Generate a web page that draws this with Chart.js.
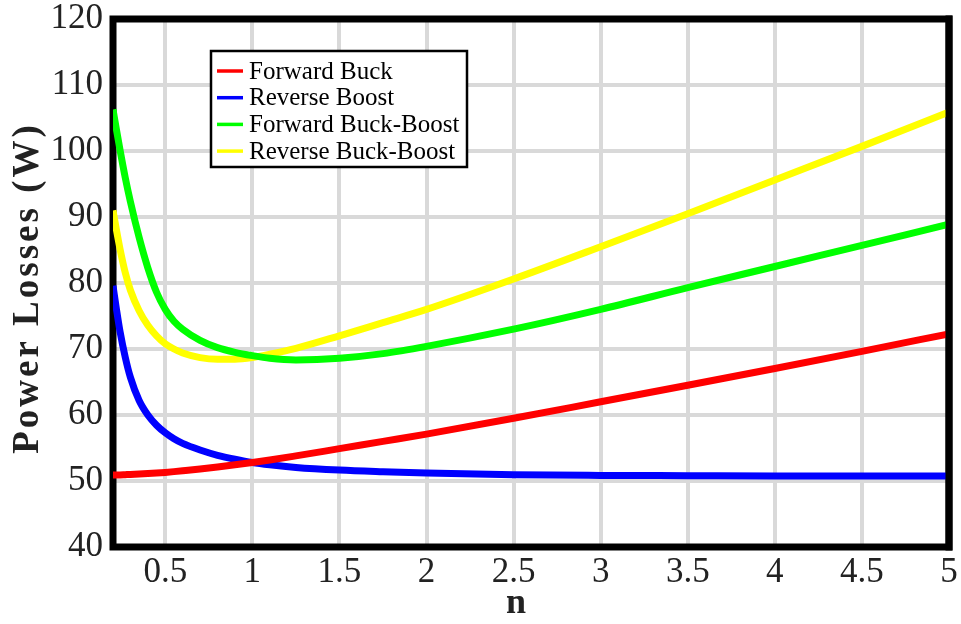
<!DOCTYPE html>
<html>
<head>
<meta charset="utf-8">
<style>
  html, body { margin: 0; padding: 0; background: #fff; }
  canvas { display: block; }
</style>
<script src="https://cdn.jsdelivr.net/npm/chart.js@4.4.1/dist/chart.umd.min.js"></script>
</head>
<body>
<canvas id="chart" width="961" height="624"></canvas>
<script>
// turns ratio n and losses (W)
const nValues = [0.2, 0.22, 0.24, 0.27, 0.3, 0.35, 0.4, 0.45, 0.5, 0.55, 0.6, 0.7, 0.8, 0.9, 1.0, 1.1, 1.25, 1.5, 1.75, 2.0, 2.5, 3.0, 3.5, 4.0, 4.5, 5.0];
const forwardBuck = [50.9, 50.9, 50.92, 50.96, 51.0, 51.05, 51.12, 51.2, 51.3, 51.42, 51.55, 51.82, 52.12, 52.45, 52.8, 53.17, 53.8, 54.9, 56.0, 57.1, 59.5, 62.0, 64.5, 67.05, 69.65, 72.3];
const reverseBoost = [79.6, 76.0, 72.7, 68.8, 65.7, 62.2, 60.0, 58.45, 57.3, 56.4, 55.7, 54.7, 53.9, 53.3, 52.8, 52.45, 52.05, 51.65, 51.4, 51.2, 50.95, 50.85, 50.8, 50.75, 50.75, 50.75];
const forwardBuckBoost = [106.3, 103.2, 100.2, 96.0, 92.3, 86.9, 82.3, 78.6, 76.0, 74.2, 73.0, 71.3, 70.2, 69.5, 69.0, 68.6, 68.35, 68.6, 69.3, 70.4, 73.0, 76.0, 79.3, 82.5, 85.7, 88.9];
const reverseBuckBoost = [91.0, 88.0, 85.2, 81.6, 78.9, 75.8, 73.6, 72.0, 70.8, 70.0, 69.4, 68.7, 68.45, 68.45, 68.7, 69.2, 70.1, 72.0, 74.0, 76.0, 80.6, 85.5, 90.5, 95.6, 100.7, 105.9];

const seriesNames = ["Forward Buck", "Reverse Boost", "Forward Buck-Boost", "Reverse Buck-Boost"];
const seriesColors = ["#ff0000", "#0000ff", "#00ff00", "#ffff00"];

const xTicks = [0.5, 1, 1.5, 2, 2.5, 3, 3.5, 4, 4.5, 5];
const yTicks = [40, 50, 60, 70, 80, 90, 100, 110, 120];

const SERIF = '"Liberation Serif", "Times New Roman", serif';

const toPoints = (ys) => nValues.map((x, i) => ({ x: x, y: ys[i] }));

// black frame round the plot; the right edge goes over the curves
const framePlugin = {
    id: "frame",
    beforeDatasetsDraw(chart) {
        const { ctx, chartArea: a } = chart;
        ctx.save();
        ctx.strokeStyle = "#000";
        ctx.lineWidth = 7;
        ctx.strokeRect(a.left, a.top, a.right - a.left, a.bottom - a.top);
        ctx.restore();
    },
    afterDatasetsDraw(chart) {
        const { ctx, chartArea: a } = chart;
        ctx.save();
        ctx.strokeStyle = "#000";
        ctx.lineWidth = 7;
        ctx.beginPath();
        ctx.moveTo(a.right, a.top - 3.5);
        ctx.lineTo(a.right, a.bottom + 3.5);
        ctx.stroke();
        ctx.restore();
    },
};

// boxed legend sitting inside the plot
const boxLegendPlugin = {
    id: "boxLegend",
    afterDraw(chart) {
        const ctx = chart.ctx;
        ctx.save();
        ctx.fillStyle = "#fff";
        ctx.fillRect(211, 51, 256, 116);
        ctx.strokeStyle = "#000";
        ctx.lineWidth = 2.5;
        ctx.strokeRect(211, 51, 256, 116);
        ctx.font = "25px " + SERIF;
        ctx.textBaseline = "middle";
        ctx.textAlign = "left";
        chart.data.datasets.forEach((ds, i) => {
            const cy = 71 + i * 26.7;
            ctx.strokeStyle = ds.borderColor;
            ctx.lineWidth = 3.5;
            ctx.beginPath();
            ctx.moveTo(217, cy);
            ctx.lineTo(243, cy);
            ctx.stroke();
            ctx.fillStyle = "#000";
            ctx.fillText(ds.label, 249, cy + 1);
        });
        ctx.restore();
    },
};

// axis titles, drawn by hand so the spacing can match
const axisTitlePlugin = {
    id: "axisTitles",
    afterDraw(chart) {
        const ctx = chart.ctx;
        const xTitle = chart.options.scales.x.title.text;
        const yTitle = chart.options.scales.y.title.text;
        ctx.save();
        ctx.fillStyle = "#222";
        ctx.font = "bold 36px " + SERIF;
        ctx.textAlign = "center";
        ctx.textBaseline = "alphabetic";
        ctx.fillText(xTitle, 516, 613);
        ctx.translate(38, 288);
        ctx.rotate(-Math.PI / 2);
        ctx.font = "bold 37px " + SERIF;
        ctx.letterSpacing = "3px";
        ctx.fillText(yTitle, 0, 0);
        ctx.restore();
    },
};

const fixTicks = (values) => (scale) => {
    scale.ticks = values.map((v) => ({ value: v }));
};

new Chart(document.getElementById("chart"), {
    type: "line",
    data: {
        datasets: [forwardBuck, reverseBoost, forwardBuckBoost, reverseBuckBoost].map((ys, i) => ({
            label: seriesNames[i],
            data: toPoints(ys),
            borderColor: seriesColors[i],
            backgroundColor: seriesColors[i],
            borderWidth: 7,
            pointRadius: 0,
            fill: false,
            cubicInterpolationMode: "monotone",
        })),
    },
    options: {
        responsive: false,
        animation: false,
        layout: {
            padding: { top: 19, right: 12, left: 0, bottom: 0 },
        },
        scales: {
            x: {
                type: "linear",
                min: 0.2,
                max: 5,
                afterBuildTicks: fixTicks(xTicks),
                afterFit: (scale) => {
                    scale.height = 77;
                    scale.paddingLeft = 0;
                    scale.paddingRight = 0;
                },
                title: { display: false, text: "n" },
                grid: { color: "#d9d9d9", lineWidth: 4, drawTicks: false },
                border: { display: false },
                ticks: {
                    padding: 8,
                    color: "#222",
                    font: { family: SERIF, size: 35, lineHeight: 1 },
                    callback: (v) => String(v),
                },
            },
            y: {
                min: 40,
                max: 120,
                afterBuildTicks: fixTicks(yTicks),
                afterFit: (scale) => {
                    scale.width = 113;
                    scale.paddingTop = 0;
                    scale.paddingBottom = 0;
                },
                title: { display: false, text: "Power Losses (W)" },
                grid: { color: "#d9d9d9", lineWidth: 4, drawTicks: false },
                border: { display: false },
                ticks: {
                    padding: 10,
                    color: "#222",
                    font: { family: SERIF, size: 35, lineHeight: 1 },
                    callback: (v) => String(v),
                },
            },
        },
        plugins: {
            legend: { display: false },
            tooltip: { enabled: false },
        },
    },
    plugins: [framePlugin, boxLegendPlugin, axisTitlePlugin],
});
</script>
</body>
</html>
